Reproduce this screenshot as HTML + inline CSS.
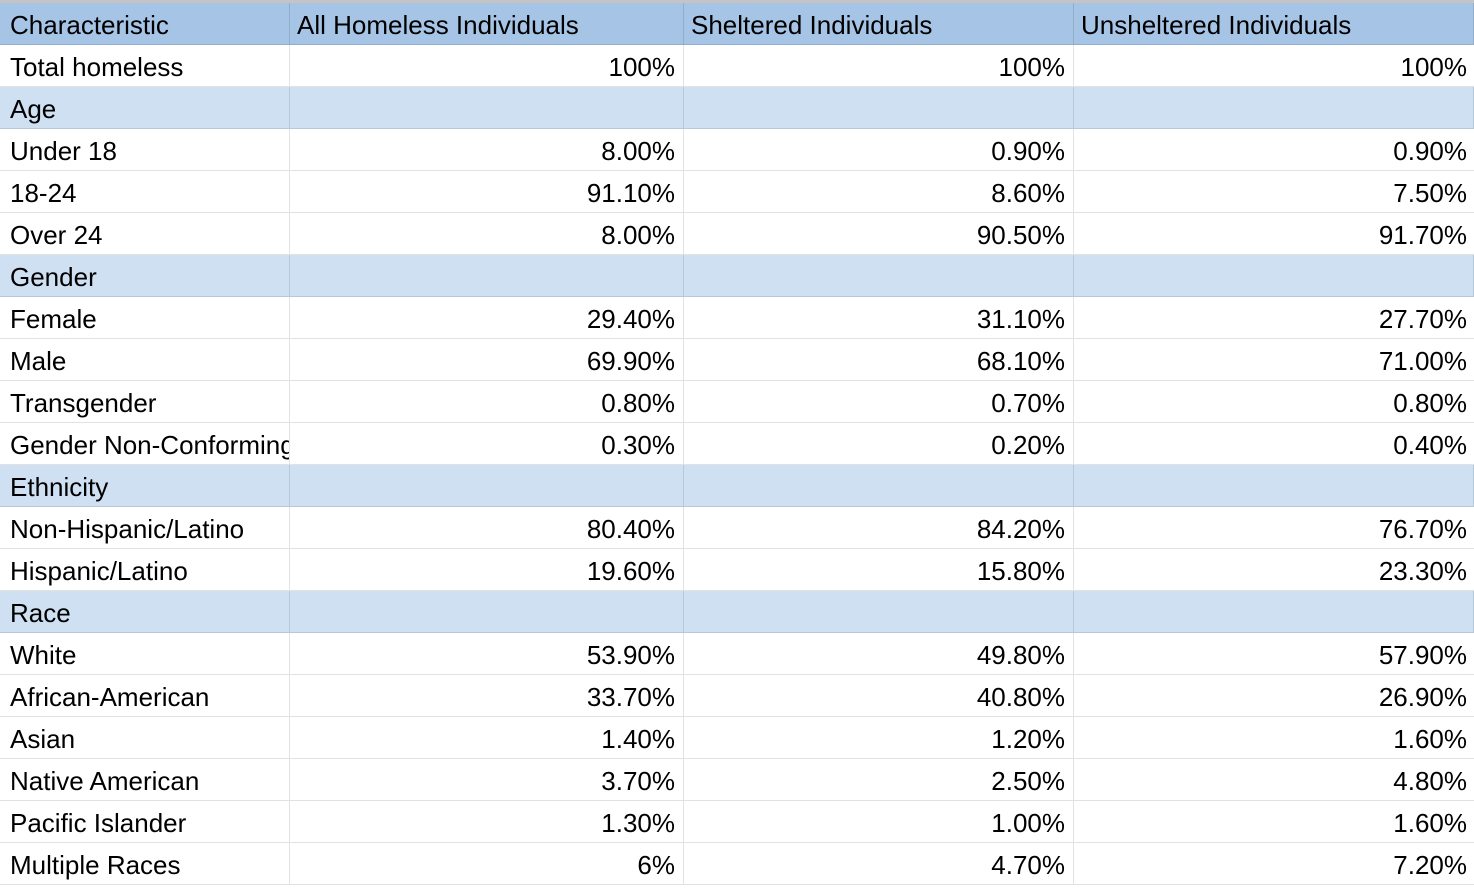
<!DOCTYPE html>
<html><head><meta charset="utf-8"><style>
body{margin:0;width:1474px;height:892px;overflow:hidden;background:#fff;font-family:"Liberation Sans",Arial,sans-serif;position:relative}
.top{position:absolute;left:0;top:0;width:1474px;height:3px;background:#c4c4c4}
.row{position:absolute;left:0;width:1474px;height:41px;border-bottom:1px solid #e2e2e2}
.row.h{background:#a6c4e5;border-bottom:1px solid #93aecb}
.row.s{background:#cfe0f2;border-bottom:1px solid #b5c8dc}
.c{position:absolute;top:0;height:41px;line-height:45px;font-size:26px;color:#000;box-sizing:border-box;border-right:1px solid #e2e2e2;white-space:nowrap;overflow:hidden}
.h .c{border-right:1px solid #93aecb}
.s .c{border-right:1px solid #b5c8dc}
.c0{left:0;width:290px;padding-left:10px}
.c1{left:290px;width:394px;text-align:right;padding-right:8px}
.c2{left:684px;width:390px;text-align:right;padding-right:8px}
.c3{left:1074px;width:400px;text-align:right;padding-right:7px;border-right:none}
.h .c1,.h .c2,.h .c3{text-align:left;padding-left:7px}
</style></head><body>
<div class="top"></div>
<div id="t"></div>
<script>
const header=["Characteristic","All Homeless Individuals","Sheltered Individuals","Unsheltered Individuals"];
const rows=[
["Total homeless","100%","100%","100%"],
["Age"],
["Under 18","8.00%","0.90%","0.90%"],
["18-24","91.10%","8.60%","7.50%"],
["Over 24","8.00%","90.50%","91.70%"],
["Gender"],
["Female","29.40%","31.10%","27.70%"],
["Male","69.90%","68.10%","71.00%"],
["Transgender","0.80%","0.70%","0.80%"],
["Gender Non-Conforming","0.30%","0.20%","0.40%"],
["Ethnicity"],
["Non-Hispanic/Latino","80.40%","84.20%","76.70%"],
["Hispanic/Latino","19.60%","15.80%","23.30%"],
["Race"],
["White","53.90%","49.80%","57.90%"],
["African-American","33.70%","40.80%","26.90%"],
["Asian","1.40%","1.20%","1.60%"],
["Native American","3.70%","2.50%","4.80%"],
["Pacific Islander","1.30%","1.00%","1.60%"],
["Multiple Races","6%","4.70%","7.20%"]
];
const t=document.getElementById('t');
function mk(vals,cls,top,name){
  const r=document.createElement('div');
  r.className='row '+cls;
  r.style.top=top+'px';
  
  
  for(let i=0;i<4;i++){
    const c=document.createElement('div');
    c.className='c c'+i;
    c.textContent=vals[i]||'';
    
    
    r.appendChild(c);
  }
  t.appendChild(r);
}
mk(header,'h',3,'header-row');
rows.forEach((v,i)=>{mk(v,v.length===1?'s':'',45+42*i,v.length===1?'section-row':'data-row');});
</script>
</body></html>
